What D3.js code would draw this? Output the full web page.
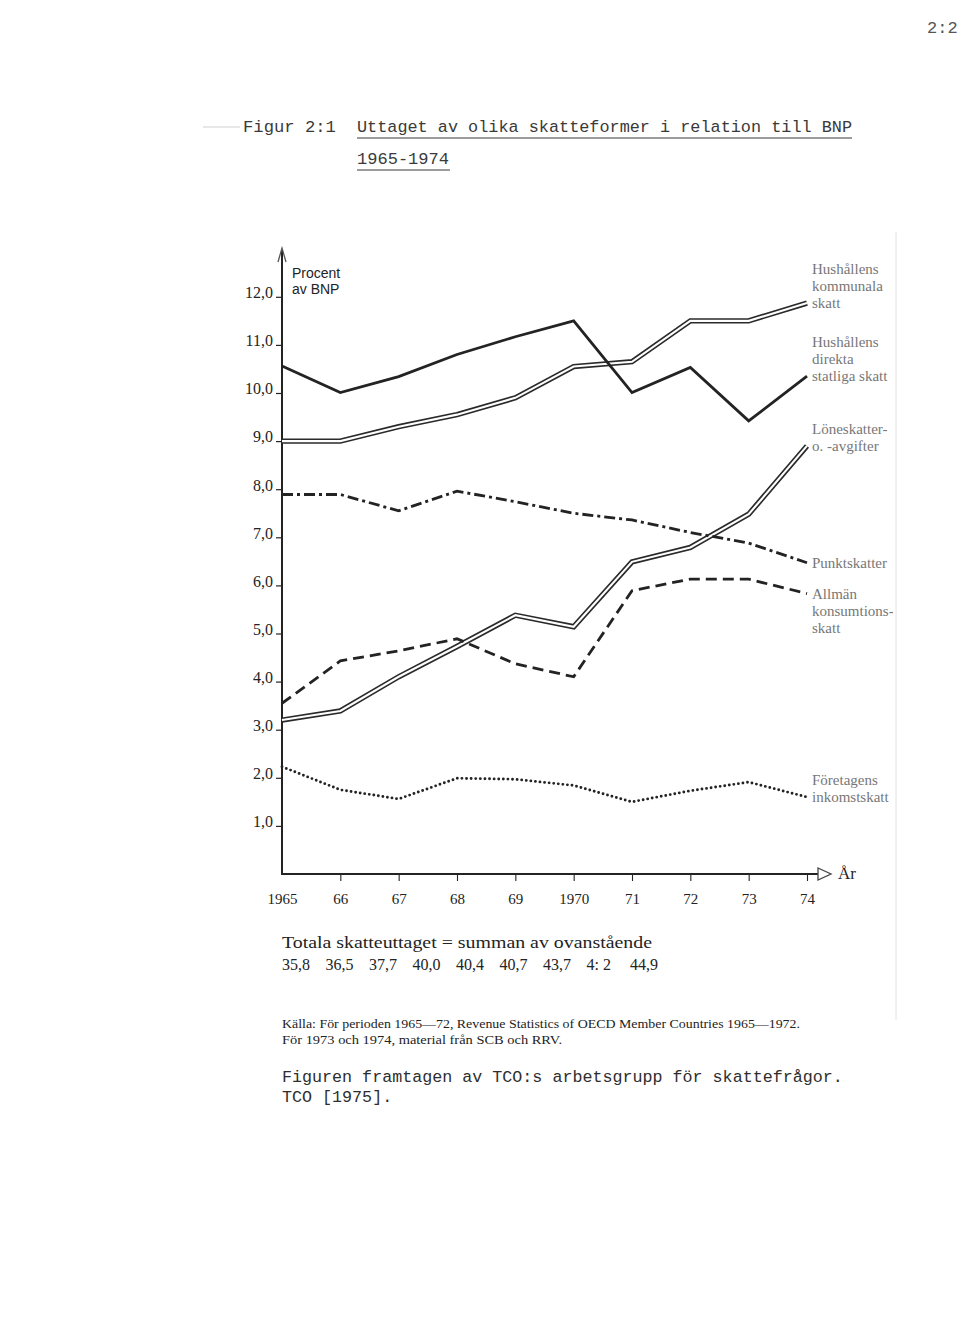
<!DOCTYPE html>
<html>
<head>
<meta charset="utf-8">
<script src="https://cdn.jsdelivr.net/npm/d3@7"></script>
<style>
  html, body { margin: 0; padding: 0; background: #fff; }
  svg { display: block; }
</style>
</head>
<body>
<script>
// ---------- DATA ----------
const years = [1965, 1966, 1967, 1968, 1969, 1970, 1971, 1972, 1973, 1974];
const yearLabels = ["1965", "66", "67", "68", "69", "1970", "71", "72", "73", "74"];
const yTicks = [1, 2, 3, 4, 5, 6, 7, 8, 9, 10, 11, 12];

const kommunalSkatt   = [9.0, 9.0, 9.3, 9.55, 9.9, 10.55, 10.65, 11.5, 11.5, 11.87];
const statligSkatt    = [10.56, 10.01, 10.34, 10.8, 11.17, 11.5, 10.01, 10.53, 9.42, 10.35];
const loneskatter     = [3.2, 3.39, 4.1, 4.73, 5.38, 5.14, 6.49, 6.79, 7.48, 8.9];
const punktskatter    = [7.89, 7.89, 7.55, 7.96, 7.74, 7.5, 7.36, 7.1, 6.88, 6.47];
const allmanKonsSkatt = [3.55, 4.43, 4.64, 4.89, 4.37, 4.1, 5.89, 6.13, 6.13, 5.83];
const foretagSkatt    = [2.23, 1.75, 1.56, 1.99, 1.97, 1.84, 1.5, 1.73, 1.91, 1.6];

const seriesNames = [
  ["Hushållens", "kommunala", "skatt"],
  ["Hushållens", "direkta", "statliga skatt"],
  ["Löneskatter-", "o. -avgifter"],
  ["Punktskatter"],
  ["Allmän", "konsumtions-", "skatt"],
  ["Företagens", "inkomstskatt"]
];
const labelAnchorLine = [2, 2, 1, 0, 0, 1];

const totalLabel = "Totala skatteuttaget = summan av ovanstående";
const totalValues = ["35,8", "36,5", "37,7", "40,0", "40,4", "40,7", "43,7", "4: 2", "44,9"];

const titleFig = "Figur 2:1";
const titleLine1 = "Uttaget av olika skatteformer i relation till BNP";
const titleLine2 = "1965-1974";
const pageNo = "2:2";
const yAxisTitle = ["Procent", "av BNP"];
const xAxisTitle = "År";
const sourceLines = [
  "Källa: För perioden 1965—72, Revenue Statistics of OECD Member Countries 1965—1972.",
  "För 1973 och 1974, material från SCB och RRV."
];
const creditLines = [
  "Figuren framtagen av TCO:s arbetsgrupp för skattefrågor.",
  "TCO [1975]."
];

// ---------- LAYOUT ----------
const W = 960, H = 1330;
const svg = d3.select("body").append("svg").attr("width", W).attr("height", H);
svg.append("rect").attr("width", W).attr("height", H).attr("fill", "#fff");

const x = d3.scaleLinear().domain([1965, 1974]).range([282, 807]);
const y = d3.scaleLinear().domain([0, 12]).range([874, 874 - 12 * 48.1]);

const ink = "#232323";
const mono = "'Liberation Mono', 'DejaVu Sans Mono', monospace";
const serif = "'Liberation Serif', 'DejaVu Serif', serif";
const sans = "'Liberation Sans', Arial, sans-serif";

// page number
svg.append("text").attr("x", 927).attr("y", 33).attr("font-family", mono)
  .attr("font-size", 17).attr("fill", "#555").text(pageNo);

// title
svg.append("line").attr("x1", 203).attr("x2", 240).attr("y1", 127).attr("y2", 127)
  .attr("stroke", "#cfcfcf").attr("stroke-width", 1.2);
svg.append("text").attr("x", 243).attr("y", 132).attr("font-family", mono)
  .attr("font-size", 17.2).attr("fill", "#3a3a3a").text(titleFig);
svg.append("text").attr("x", 357).attr("y", 132).attr("font-family", mono)
  .attr("font-size", 17.2).attr("fill", "#3a3a3a")
  .attr("textLength", 495).attr("lengthAdjust", "spacingAndGlyphs").text(titleLine1);
svg.append("line").attr("x1", 357).attr("x2", 852).attr("y1", 138).attr("y2", 138)
  .attr("stroke", "#3a3a3a").attr("stroke-width", 1.2);
svg.append("text").attr("x", 357).attr("y", 164).attr("font-family", mono)
  .attr("font-size", 17.2).attr("fill", "#3a3a3a")
  .attr("textLength", 92).attr("lengthAdjust", "spacingAndGlyphs").text(titleLine2);
svg.append("line").attr("x1", 357).attr("x2", 450).attr("y1", 170).attr("y2", 170)
  .attr("stroke", "#3a3a3a").attr("stroke-width", 1.2);

// faint page edge line at right
svg.append("line").attr("x1", 896).attr("x2", 896).attr("y1", 232).attr("y2", 1020)
  .attr("stroke", "#e2e2e2").attr("stroke-width", 1);

// ---------- AXES ----------
const yAxis = d3.axisLeft(y).tickValues(yTicks).tickSize(6).tickPadding(3)
  .tickFormat(d => d.toFixed(1).replace(".", ","));
const gy = svg.append("g").attr("transform", `translate(${x(1965)},0)`).call(yAxis);
gy.select(".domain").remove();
gy.selectAll(".tick line").attr("stroke", ink).attr("stroke-width", 1.2);
gy.selectAll(".tick text").attr("font-family", serif).attr("font-size", 16)
  .attr("fill", ink).attr("dy", "0.05em");

const xAxis = d3.axisBottom(x).tickValues(years).tickSize(7).tickPadding(12)
  .tickFormat((d, i) => yearLabels[i]);
const gx = svg.append("g").attr("transform", `translate(0,${y(0)})`).call(xAxis);
gx.select(".domain").remove();
gx.selectAll(".tick line").attr("stroke", ink).attr("stroke-width", 1.1);
gx.selectAll(".tick text").attr("font-family", serif).attr("font-size", 15).attr("fill", ink);
gx.selectAll(".tick").filter(d => d === 1965).select("line").remove();

// axis lines with arrows
svg.append("line").attr("x1", x(1965)).attr("x2", x(1965)).attr("y1", y(0) + 1).attr("y2", 250)
  .attr("stroke", ink).attr("stroke-width", 2);
svg.append("path").attr("d", `M${x(1965) - 4},262 L${x(1965)},248 L${x(1965) + 4},262`)
  .attr("fill", "none").attr("stroke", "#555").attr("stroke-width", 1.3);
svg.append("line").attr("x1", x(1965) - 1).attr("x2", 818).attr("y1", y(0)).attr("y2", y(0))
  .attr("stroke", ink).attr("stroke-width", 2.2);
svg.append("path").attr("d", `M818,868 L831,874 L818,880 Z`)
  .attr("fill", "none").attr("stroke", "#444").attr("stroke-width", 1.3);
svg.append("text").attr("x", 838).attr("y", 879).attr("font-family", serif)
  .attr("font-size", 17).attr("fill", ink).text(xAxisTitle);

// y axis title
yAxisTitle.forEach((t, i) => {
  svg.append("text").attr("x", 292).attr("y", 278 + i * 16).attr("font-family", sans)
    .attr("font-size", 14).attr("fill", ink).text(t);
});

// ---------- LINES ----------
const line = d3.line().x((d, i) => x(years[i])).y(d => y(d));

function doubleLine(vals) {
  svg.append("path").attr("d", line(vals)).attr("fill", "none")
    .attr("stroke", "#2a2a2a").attr("stroke-width", 5.4).attr("stroke-linejoin", "miter");
  svg.append("path").attr("d", line(vals)).attr("fill", "none")
    .attr("stroke", "#fff").attr("stroke-width", 2.1).attr("stroke-linejoin", "miter");
}
doubleLine(loneskatter);
doubleLine(kommunalSkatt);

svg.append("path").attr("d", line(statligSkatt)).attr("fill", "none")
  .attr("stroke", ink).attr("stroke-width", 2.8);
svg.append("path").attr("d", line(punktskatter)).attr("fill", "none")
  .attr("stroke", ink).attr("stroke-width", 2.8).attr("stroke-dasharray", "11,4,3,4");
svg.append("path").attr("d", line(allmanKonsSkatt)).attr("fill", "none")
  .attr("stroke", ink).attr("stroke-width", 2.8).attr("stroke-dasharray", "11,6");
svg.append("path").attr("d", line(foretagSkatt)).attr("fill", "none")
  .attr("stroke", ink).attr("stroke-width", 2.9).attr("stroke-linecap", "round")
  .attr("stroke-dasharray", "0,4.6");

// ---------- SERIES LABELS ----------
const allSeries = [kommunalSkatt, statligSkatt, loneskatter, punktskatter, allmanKonsSkatt, foretagSkatt];
svg.append("clipPath").attr("id", "rclip").append("rect")
  .attr("x", 800).attr("y", 200).attr("width", 93).attr("height", 700);
const lg = svg.append("g").attr("clip-path", "url(#rclip)");
allSeries.forEach((vals, s) => {
  const endY = y(vals[vals.length - 1]);
  const lh = 17;
  seriesNames[s].forEach((t, k) => {
    lg.append("text").attr("x", 812).attr("y", endY + (k - labelAnchorLine[s]) * lh + 5)
      .attr("font-family", serif).attr("font-size", 15).attr("fill", "#777").text(t);
  });
});

// ---------- BOTTOM TEXT ----------
svg.append("text").attr("x", 282).attr("y", 948).attr("font-family", serif)
  .attr("font-size", 16).attr("fill", ink)
  .attr("textLength", 370).attr("lengthAdjust", "spacingAndGlyphs").text(totalLabel);
totalValues.forEach((t, i) => {
  svg.append("text").attr("x", 282 + i * 43.5).attr("y", 970).attr("font-family", serif)
    .attr("font-size", 16).attr("fill", ink).text(t);
});
const srcW = [518, 280];
sourceLines.forEach((t, i) => {
  svg.append("text").attr("x", 282).attr("y", 1028 + i * 16).attr("font-family", serif)
    .attr("font-size", 13.5).attr("fill", ink)
    .attr("textLength", srcW[i]).attr("lengthAdjust", "spacingAndGlyphs").text(t);
});
creditLines.forEach((t, i) => {
  svg.append("text").attr("x", 282).attr("y", 1082 + i * 20).attr("font-family", mono)
    .attr("font-size", 16.7).attr("fill", "#2e2e2e").text(t);
});
</script>
</body>
</html>
